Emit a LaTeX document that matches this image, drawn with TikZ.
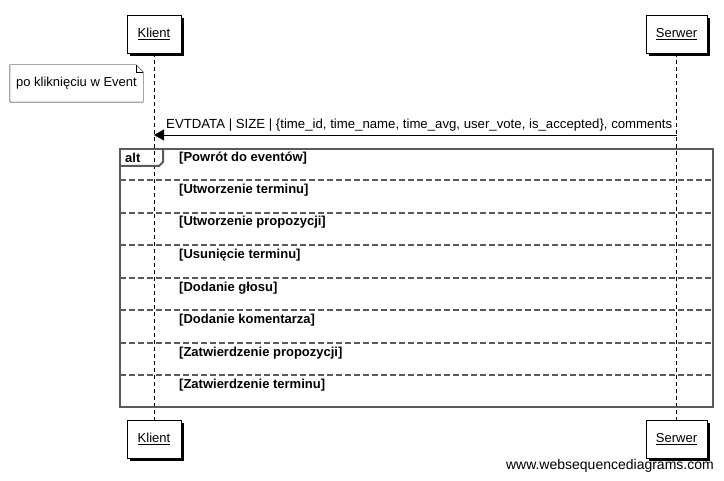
\documentclass[tikz,border=0pt]{standalone}
\usepackage{fontspec}
\setmainfont{Liberation Sans}
\usetikzlibrary{positioning, shadows, arrows.meta}
\definecolor{framegray}{HTML}{5A5A5A}

\begin{document}
\begin{tikzpicture}[x=1pt, y=-1pt,
    actor/.style={draw=black, fill=white, minimum height=38pt, inner sep=0pt, font=\fontsize{13}{15}\selectfont,
        drop shadow={shadow xshift=3pt, shadow yshift=-3pt, fill=black, opacity=1}},
    lifeline/.style={black, dash pattern=on 4pt off 3pt},
    msg/.style={black, -{Triangle[length=10pt, width=11pt]}},
    frame/.style={draw=framegray, line width=2.5pt},
    sep/.style={draw=framegray, line width=2pt, dash pattern=on 6pt off 3pt},
    guard/.style={anchor=west, inner sep=0pt, font=\fontsize{13}{15}\selectfont\bfseries},
    plain/.style={inner sep=0pt, font=\fontsize{13}{15}\selectfont}
]
    \useasboundingbox (0,0) rectangle (724,481);

    % --- Actors (top and bottom) ---
    \node[actor, minimum width=54pt] (kTop) at (154,34)    {\underline{Klient}};
    \node[actor, minimum width=61pt] (sTop) at (676.5,34)  {\underline{Serwer}};
    \node[actor, minimum width=54pt] (kBot) at (154,439)   {\underline{Klient}};
    \node[actor, minimum width=61pt] (sBot) at (676.5,439) {\underline{Serwer}};

    % --- Lifelines ---
    \draw[lifeline] (kTop.south) -- (kBot.north);
    \draw[lifeline] (sTop.south) -- (sBot.north);

    % --- Note ---
    \node[plain, minimum width=133pt, minimum height=37pt] (note) at (76.5,83.5) {po kliknięciu w Event};
    \draw[black, fill=white] (note.north west) -- ([xshift=-7pt]note.north east) -- ([yshift=-7pt]note.north east)
        -- (note.south east) -- (note.south west) -- cycle;
    \draw[black] ([xshift=-7pt]note.north east) -- ([xshift=-7pt, yshift=-7pt]note.north east) -- ([yshift=-7pt]note.north east);
    \node[plain] at (note) {po kliknięciu w Event};

    % --- Message Serwer -> Klient ---
    \coordinate (sMsg) at (676.5,135);
    \coordinate (kMsg) at (154,135);
    \draw[msg] (sMsg) -- (kMsg);
    \node[plain, anchor=base west, font=\fontsize{13.2}{15}\selectfont] (msgLabel) at (166,129)
        {EVTDATA | SIZE | \{time\_id, time\_name, time\_avg, user\_vote, is\_accepted\}, comments};

    % --- alt frame ---
    \coordinate (altNW) at (120,149);
    \coordinate (altSE) at (713,407);
    \foreach \y in {180,213,245,278,310,343,375}
        \draw[sep] (120,\y) -- (713,\y);
    \draw[frame] (altNW) rectangle (altSE);
    \draw[draw=framegray, line width=2pt] (120,166) -- (159,166) -- (163,162) -- (163,149);
    \node[guard] (altTag) at (125,158) {alt};

    % --- guards ---
    \foreach \y/\txt in {158/Powrót do eventów, 190/Utworzenie terminu, 222/Utworzenie propozycji,
            255/Usunięcie terminu, 288/Dodanie głosu, 320/Dodanie komentarza,
            353/Zatwierdzenie propozycji, 385/Zatwierdzenie terminu}
        \node[guard] at (179,\y) {[\txt]};

    % --- watermark ---
    \node[inner sep=0pt, anchor=base east, font=\fontsize{14}{16}\selectfont] (wsd) at (714,470) {www.websequencediagrams.com};

\end{tikzpicture}
\end{document}
